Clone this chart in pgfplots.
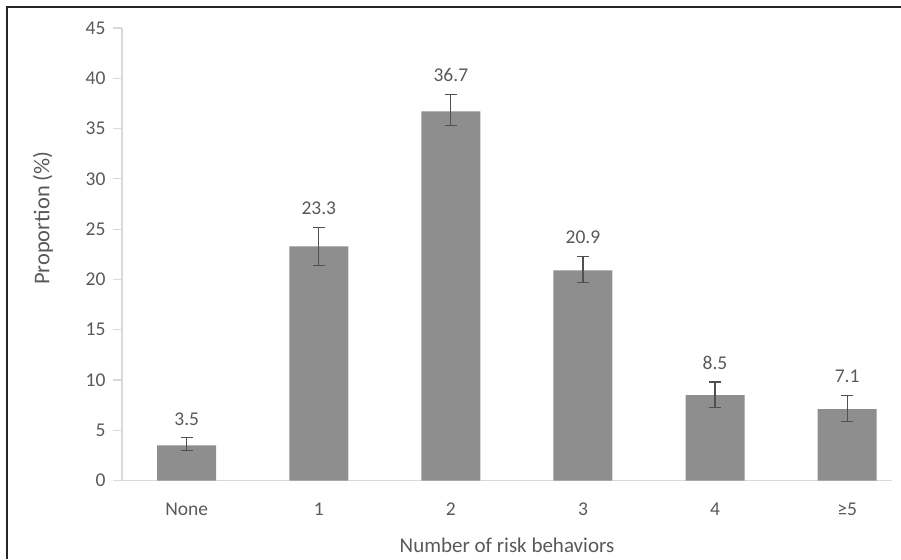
\documentclass[border=0pt]{standalone}
\usepackage{pgfplots}
\pgfplotsset{compat=1.18}
\usepackage{fontspec}
\setmainfont{Carlito}
\definecolor{bargray}{HTML}{8E8E8E}
\definecolor{txtgray}{HTML}{595959}
\definecolor{axgray}{HTML}{D9D9D9}
\definecolor{errgray}{HTML}{505050}
\begin{document}
\begin{tikzpicture}
\path[use as bounding box] (0,0) rectangle (901pt,559pt);
\begin{axis}[
  at={(122pt,78.4pt)}, anchor=south west,
  scale only axis, width=770pt, height=452.6pt,
  xmin=-0.49, xmax=5.34, ymin=0, ymax=45,
  xtick=data, xticklabels={None,1,2,3,4,{≥5}},
  ytick={0,5,...,45},
  axis lines=left, axis line style={axgray, line width=1.2pt, -},
  x axis line style={-}, y axis line style={-},
  major x tick style={draw=none},
  major y tick style={axgray, line width=1.2pt},
  major tick length=9pt, tick align=outside,
  /pgf/number format/assume math mode=true,
  ticklabel style={font=\fontsize{19.5}{22}\selectfont, text=txtgray},
  xticklabel style={anchor=center, yshift=-20pt},
  yticklabel style={xshift=-4pt},
  xlabel={Number of risk behaviors},
  ylabel={Proportion (\%)},
  every axis x label/.style={at={(axis description cs:0.5,-0.1423)}, anchor=center,
    font=\fontsize{21}{24}\selectfont, text=txtgray},
  every axis y label/.style={at={(axis description cs:-0.1026,0.58)}, anchor=center, rotate=90,
    font=\fontsize{22.5}{25}\selectfont, text=txtgray},
  clip=false,
]
\addplot[ybar, bar width=59pt, bar shift=0pt, fill=bargray, draw=none,
  error bars/.cd, y dir=both, y explicit,
  error bar style={errgray, line width=1.2pt},
  error mark options={errgray, line width=1.2pt, rotate=90, mark size=6pt}]
coordinates {
  (0,3.5)  += (0,0.75) -= (0,0.5)
  (1,23.3) += (0,1.9)  -= (0,1.9)
  (2,36.7) += (0,1.7)  -= (0,1.4)
  (3,20.9) += (0,1.4)  -= (0,1.2)
  (4,8.5)  += (0,1.3)  -= (0,1.2)
  (5,7.1)  += (0,1.4)  -= (0,1.2)
};
\addplot[draw=none, mark=none, point meta=explicit symbolic,
  nodes near coords,
  every node near coord/.style={anchor=center, yshift=19pt,
    font=\fontsize{19.5}{22}\selectfont, text=txtgray}]
coordinates {
  (0,4.25)[3.5]
  (1,25.2)[23.3]
  (2,38.4)[36.7]
  (3,22.3)[20.9]
  (4,9.8)[8.5]
  (5,8.5)[7.1]
};
\end{axis}
\draw[line width=2.5pt, black!85] (7pt,0pt) -- (7pt,552pt) -- (901pt,552pt);
\end{tikzpicture}
\end{document}
